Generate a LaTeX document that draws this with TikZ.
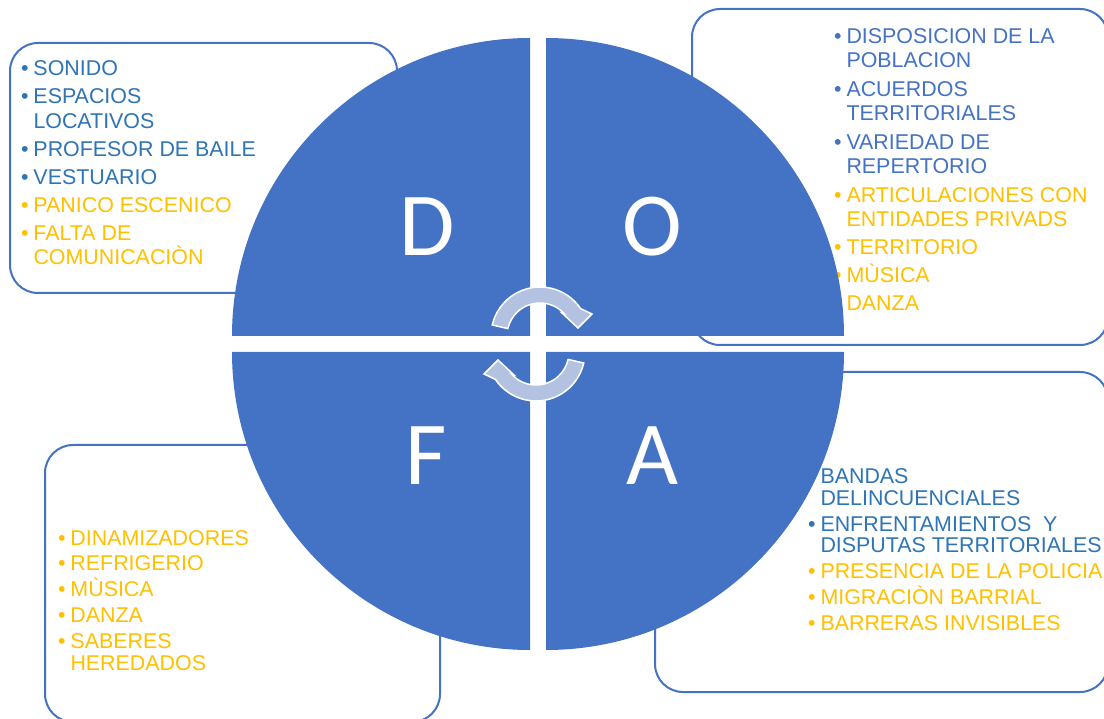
\documentclass[tikz,border=0pt]{standalone}
\usepackage{fontspec}
\setmainfont{Liberation Sans}
\newfontfamily\letterfont{Carlito}
\definecolor{dofa}{HTML}{4472C4}
\definecolor{txtblue}{HTML}{2E75B6}
\definecolor{txtblueb}{HTML}{4472C4}
\definecolor{txtgold}{HTML}{FFC000}
\definecolor{arrowfill}{HTML}{B4C2E2}
\newcommand\bul{\makebox[12.5pt][l]{•}}
\newcommand\ind{\hspace*{12.5pt}}
\newcommand\bi[2]{\hbox{\color{#1}\bul #2}}
\newcommand\ci[2]{\hbox{\color{#1}\ind #2}}
\newcommand\lst[2]{\vtop{\fontsize{21.4}{#1}\selectfont\lineskiplimit=-50pt\relax #2}}
\begin{document}
\begin{tikzpicture}[x=1pt,y=-1pt,
  listbox/.style={draw=dofa, line width=2pt, rounded corners=28pt, fill=white},
  listtext/.style={anchor=base west, inner sep=0pt, outer sep=0pt},
  quad/.style={fill=dofa},
  letter/.style={anchor=base, inner sep=0pt, text=white, font=\letterfont\fontsize{90}{90}\selectfont},
  cyclearrow/.style={fill=arrowfill, draw=white, line width=1.5pt, line join=miter}]
\useasboundingbox (0,0) rectangle (1104,719);
% boxes
\draw[listbox] (10,43) rectangle (397,293);
\draw[listbox] (692,9) rectangle (1108,345);
\draw[listbox] (655,372) rectangle (1108,692);
\draw[listbox] (45,445) rectangle (440,722);
% texts
\node[listtext] (textD) at (21,76) {\lst{24.5}{%
\bi{txtblue}{SONIDO}\vskip3.5pt
\bi{txtblue}{ESPACIOS}
\ci{txtblue}{LOCATIVOS}\vskip3.5pt
\bi{txtblue}{PROFESOR DE BAILE}\vskip3.5pt
\bi{txtblue}{VESTUARIO}\vskip3.5pt
\bi{txtgold}{PANICO ESCENICO}\vskip3.5pt
\bi{txtgold}{FALTA DE}
\ci{txtgold}{COMUNICACIÒN}}};
\node[listtext] (textO) at (834,44) {\lst{24}{%
\bi{txtblueb}{DISPOSICION DE LA}
\ci{txtblueb}{POBLACION}\vskip5pt
\bi{txtblueb}{ACUERDOS}
\ci{txtblueb}{TERRITORIALES}\vskip5pt
\bi{txtblueb}{VARIEDAD DE}
\ci{txtblueb}{REPERTORIO}\vskip5pt
\bi{txtgold}{ARTICULACIONES CON}
\ci{txtgold}{ENTIDADES PRIVADS}\vskip4pt
\bi{txtgold}{TERRITORIO}\vskip4pt
\bi{txtgold}{MÙSICA}\vskip4pt
\bi{txtgold}{DANZA}}};
\node[listtext] (textA) at (808,483) {\lst{22}{%
\bi{txtblue}{BANDAS}
\ci{txtblue}{DELINCUENCIALES}\vskip4pt
\bi{txtblue}{ENFRENTAMIENTOS\ \ Y}
\ci{txtblue}{DISPUTAS TERRITORIALES}\vskip4pt
\bi{txtgold}{PRESENCIA DE LA POLICIA}\vskip4pt
\bi{txtgold}{MIGRACIÒN BARRIAL}\vskip4pt
\bi{txtgold}{BARRERAS INVISIBLES}}};
\node[listtext] (textF) at (58,545) {\lst{22}{%
\bi{txtgold}{DINAMIZADORES}\vskip3.8pt
\bi{txtgold}{REFRIGERIO}\vskip3.8pt
\bi{txtgold}{MÙSICA}\vskip3.8pt
\bi{txtgold}{DANZA}\vskip3.8pt
\bi{txtgold}{SABERES}
\ci{txtgold}{HEREDADOS}}};
% circle quadrants
\fill[quad] (530,336) -- (232,336) arc[start angle=180, end angle=270, radius=298] -- cycle;
\fill[quad] (546,336) -- (546,38) arc[start angle=270, end angle=360, radius=298] -- cycle;
\fill[quad] (546,352) -- (844,352) arc[start angle=0, end angle=90, radius=298] -- cycle;
\fill[quad] (530,352) -- (530,650) arc[start angle=90, end angle=180, radius=298] -- cycle;
% letters
\node[letter] (D) at (427,256) {D};
\node[letter] (O) at (652,256) {O};
\node[letter] (F) at (426,484) {F};
\node[letter] (A) at (653,484) {A};
% cycle arrows
\path[cyclearrow] ([shift={(540,336)}]193:49) arc[start angle=193, end angle=326, radius=49]
  -- (592,314) -- (578,328) -- (562,313) -- ([shift={(540,336)}]317:33)
  arc[start angle=317, end angle=193, radius=33] -- cycle;
\begin{scope}[rotate around={180:(538,344)}]
\path[cyclearrow] ([shift={(540,336)}]193:49) arc[start angle=193, end angle=326, radius=49]
  -- (592,314) -- (578,328) -- (562,313) -- ([shift={(540,336)}]317:33)
  arc[start angle=317, end angle=193, radius=33] -- cycle;
\end{scope}
\end{tikzpicture}
\end{document}
